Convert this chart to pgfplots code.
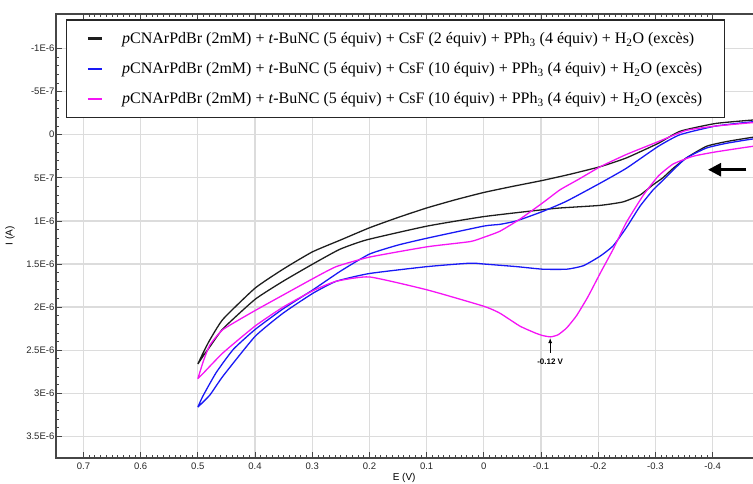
\documentclass[border=0pt]{standalone}
\usepackage{fontspec}
\setmainfont{Liberation Serif}
\setsansfont{Liberation Sans}
\usepackage{pgfplots}
\pgfplotsset{compat=1.18}
\usetikzlibrary{arrows.meta}
\definecolor{cvblack}{RGB}{30,30,30}
\definecolor{cvblue}{RGB}{25,25,245}
\definecolor{cvmag}{RGB}{245,20,245}
\definecolor{gridgray}{RGB}{220,220,220}
\definecolor{axgray}{RGB}{70,70,70}

\pgfplotstableread{
E I
0.5 2.66
0.490 2.52
0.479 2.38
0.456 2.14
0.40 1.78
0.351 1.56
0.30 1.36
0.25 1.22
0.20 1.08
0.15 0.96
0.10 0.85
0.05 0.755
0.0 0.67
-0.05 0.60
-0.103 0.53
-0.15 0.46
-0.204 0.37
-0.249 0.27
-0.305 0.10
-0.343 -0.04
-0.405 -0.13
-0.47 -0.17
-0.50 -0.18
-0.50 0.01
-0.47 0.03
-0.424 0.08
-0.389 0.135
-0.354 0.27
-0.331 0.39
-0.313 0.50
-0.296 0.58
-0.273 0.70
-0.243 0.78
-0.203 0.82
-0.133 0.85
-0.103 0.87
0.0 0.95
0.099 1.06
0.205 1.22
0.252 1.33
0.299 1.50
0.351 1.70
0.40 1.91
0.456 2.25
0.479 2.46
0.490 2.56
0.5 2.66
}\blackdata

\pgfplotstableread{
E I
0.5 3.16
0.491 3.03
0.468 2.76
0.438 2.49
0.40 2.26
0.351 2.02
0.299 1.80
0.25 1.58
0.20 1.385
0.15 1.28
0.099 1.20
0.0 1.06
-0.028 1.04
-0.057 1.00
-0.103 0.89
-0.145 0.77
-0.204 0.56
-0.249 0.39
-0.305 0.135
-0.343 0.0
-0.405 -0.10
-0.47 -0.15
-0.50 -0.16
-0.50 0.04
-0.47 0.05
-0.424 0.10
-0.389 0.155
-0.354 0.27
-0.331 0.41
-0.313 0.53
-0.296 0.64
-0.273 0.83
-0.249 1.08
-0.226 1.29
-0.203 1.41
-0.174 1.52
-0.145 1.56
-0.103 1.56
-0.057 1.53
0.0 1.50
0.024 1.49
0.099 1.53
0.2 1.61
0.258 1.70
0.299 1.84
0.351 2.07
0.40 2.34
0.456 2.80
0.479 3.02
0.5 3.16
}\bluedata

\pgfplotstableread{
E I
0.5 2.83
0.490 2.62
0.479 2.44
0.456 2.26
0.40 2.04
0.351 1.86
0.299 1.67
0.258 1.53
0.2 1.42
0.099 1.30
0.024 1.24
0.0 1.19
-0.028 1.12
-0.063 0.98
-0.103 0.79
-0.133 0.64
-0.165 0.52
-0.204 0.37
-0.249 0.23
-0.305 0.08
-0.354 -0.05
-0.405 -0.10
-0.47 -0.14
-0.50 -0.15
-0.50 0.12
-0.47 0.135
-0.405 0.20
-0.366 0.25
-0.331 0.34
-0.305 0.48
-0.279 0.70
-0.249 1.02
-0.226 1.33
-0.204 1.60
-0.182 1.88
-0.162 2.10
-0.145 2.24
-0.130 2.32
-0.117 2.345
-0.103 2.33
-0.090 2.30
-0.063 2.22
-0.028 2.07
0.0 1.99
0.099 1.80
0.2 1.65
0.258 1.70
0.299 1.81
0.351 2.00
0.40 2.22
0.456 2.53
0.491 2.77
0.5 2.83
}\magdata

\begin{document}
\begin{tikzpicture}
\begin{axis}[
  at={(0,0)}, anchor=south west,
  scale only axis, width=712pt, height=444pt,
  x dir=reverse, y dir=reverse,
  xmin=-0.4968, xmax=0.748, ymin=-1.40, ymax=3.75,
  axis line style={axgray, line width=1.2pt},
  xtick={-0.4,-0.3,-0.2,-0.1,0,0.1,0.2,0.3,0.4,0.5,0.6,0.7},
  xticklabels={-0.4,-0.3,-0.2,-0.1,0,0.1,0.2,0.3,0.4,0.5,0.6,0.7},
  ytick={-1,-0.5,0,0.5,1,1.5,2,2.5,3,3.5},
  yticklabels={-1E-6,-5E-7,0,5E-7,1E-6,1.5E-6,2E-6,2.5E-6,3E-6,3.5E-6},
  minor x tick num=9, minor y tick num=4,
  major tick length=6pt, minor tick length=3pt,
  every tick/.style={axgray, line width=0.8pt},
  grid=major,
  major grid style={gridgray, line width=1.3pt},
  ticklabel style={font=\sffamily\fontsize{9.5}{11}\selectfont, text=black!85},
  yticklabel style={inner sep=1.5pt},
  xticklabel style={yshift=-1pt},
  xlabel={E (V)}, ylabel={I (A)},
  label style={font=\sffamily\fontsize{10}{12}\selectfont},
  xlabel style={at={(axis description cs:0.489,-0.045)}, anchor=center},
  ylabel style={at={(axis description cs:-0.0646,0.5)}, anchor=center},
  legend image code/.code={\draw[#1,line width=2.6pt] (0pt,0pt) -- (14pt,0pt);},
  legend style={at={(axis description cs:0.014,0.988)}, anchor=north west,
    draw=black!85, line width=1.3pt, fill=white,
    font=\fontsize{16}{18}\selectfont,
    inner xsep=20pt, inner ysep=10.5pt, row sep=13.5pt,
    /tikz/every odd column/.append style={column sep=17pt}},
  legend cell align=left,
]
\addplot[cvblack, line width=1.3pt, smooth, tension=0.3] table[x=E,y=I] {\blackdata};
\addlegendentry{\textit{p}CNArPdBr (2mM) + \textit{t}-BuNC (5 équiv) + CsF (2 équiv) + PPh\textsubscript{3} (4 équiv) + H\textsubscript{2}O (excès)}
\addplot[cvblue, line width=1.3pt, smooth, tension=0.3] table[x=E,y=I] {\bluedata};
\addlegendentry{\textit{p}CNArPdBr (2mM) + \textit{t}-BuNC (5 équiv) + CsF (10 équiv) + PPh\textsubscript{3} (4 équiv) + H\textsubscript{2}O (excès)}
\addplot[cvmag, line width=1.3pt, smooth, tension=0.3] table[x=E,y=I] {\magdata};
\addlegendentry{\textit{p}CNArPdBr (2mM) + \textit{t}-BuNC (5 équiv) + CsF (10 équiv) + PPh\textsubscript{3} (4 équiv) + H\textsubscript{2}O (excès)}
\draw[-{Latex[length=5pt,width=4pt]}, line width=0.7pt] (axis cs:-0.116,2.53) -- (axis cs:-0.116,2.36);
\node[font=\sffamily\bfseries\fontsize{8}{9}\selectfont] at (axis cs:-0.116,2.63) {-0.12 V};
\draw[-{Triangle[length=13pt,width=13pt]}, line width=2.7pt] (axis cs:-0.459,0.406) -- (axis cs:-0.392,0.406);
\end{axis}
\pgfresetboundingbox
\useasboundingbox (-56pt,-26pt) rectangle (697pt,458pt);
\end{tikzpicture}
\end{document}
